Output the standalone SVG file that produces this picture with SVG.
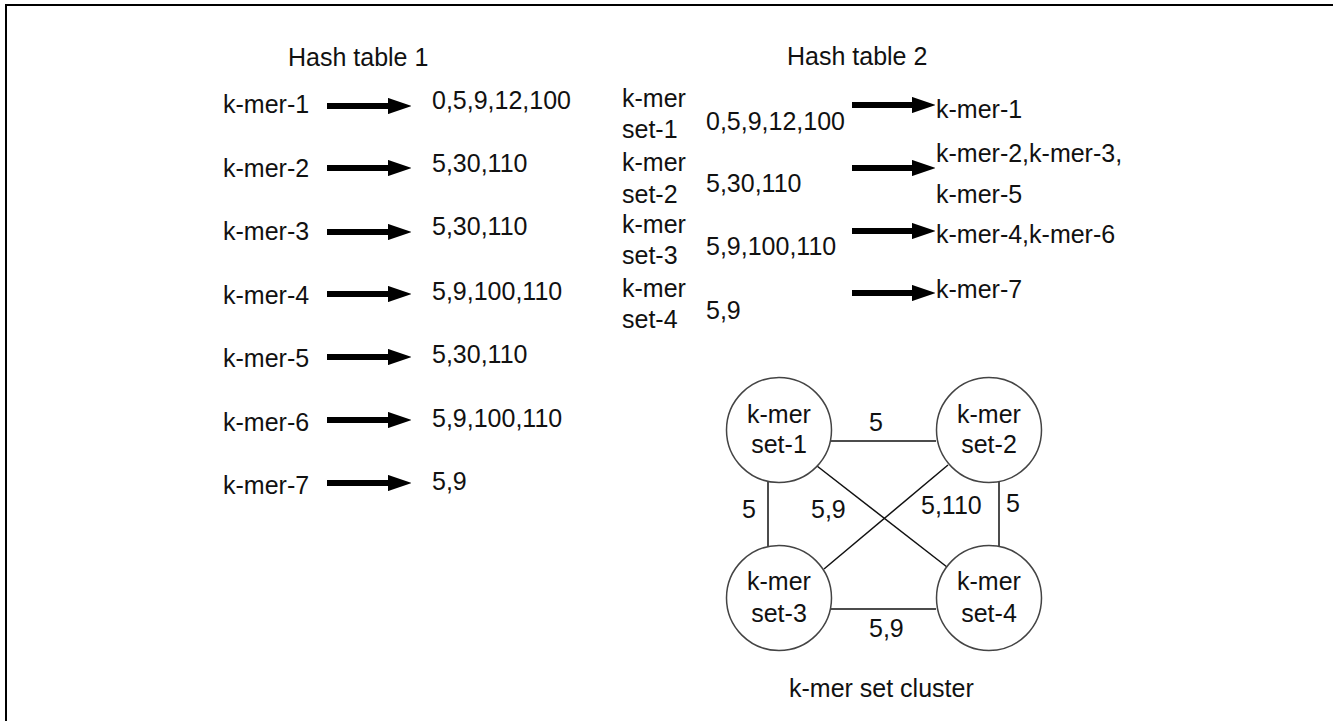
<svg xmlns="http://www.w3.org/2000/svg" width="1333" height="721" viewBox="0 0 1333 721">
<defs>
<style>
text{font-family:"Liberation Sans",Arial,sans-serif;font-size:25px;fill:#111}
.c{text-anchor:middle}
.arr{stroke:#000;stroke-width:6;fill:none}
.edge{stroke:#111;stroke-width:1.5;fill:none}
.node{fill:#fff;stroke:#444;stroke-width:1.5}
</style>
<marker id="ah" viewBox="0 0 10 10" refX="0" refY="5" markerWidth="3.9" markerHeight="2.7" markerUnits="strokeWidth" orient="auto" preserveAspectRatio="none">
<path d="M0,0 L10,5 L0,10 Z" fill="#000"/>
</marker>
</defs>
<rect width="1333" height="721" fill="#fff"/>
<path d="M6,721 V5 H1333" fill="none" stroke="#000" stroke-width="2"/>

<g id="table1">
<text x="288" y="66">Hash table 1</text>
<text x="223" y="113">k-mer-1</text>
<text x="223" y="177">k-mer-2</text>
<text x="223" y="240">k-mer-3</text>
<text x="223" y="304">k-mer-4</text>
<text x="223" y="367">k-mer-5</text>
<text x="223" y="431">k-mer-6</text>
<text x="223" y="494">k-mer-7</text>
<text x="432" y="109">0,5,9,12,100</text>
<text x="432" y="172">5,30,110</text>
<text x="432" y="235">5,30,110</text>
<text x="432" y="300">5,9,100,110</text>
<text x="432" y="363">5,30,110</text>
<text x="432" y="427">5,9,100,110</text>
<text x="432" y="490">5,9</text>
</g>

<g id="table2">
<text x="787" y="65">Hash table 2</text>
<text x="622" y="107">k-mer</text><text x="622" y="138">set-1</text>
<text x="622" y="171">k-mer</text><text x="622" y="203">set-2</text>
<text x="622" y="233">k-mer</text><text x="622" y="264">set-3</text>
<text x="622" y="297">k-mer</text><text x="622" y="328">set-4</text>
<text x="706" y="130">0,5,9,12,100</text>
<text x="706" y="192">5,30,110</text>
<text x="706" y="255">5,9,100,110</text>
<text x="706" y="319">5,9</text>
<text x="936" y="118">k-mer-1</text>
<text x="936" y="162">k-mer-2,k-mer-3,</text>
<text x="936" y="203">k-mer-5</text>
<text x="936" y="243">k-mer-4,k-mer-6</text>
<text x="936" y="298">k-mer-7</text>
</g>

<g id="connectors">
<line class="arr" x1="327" y1="106" x2="388" y2="106" marker-end="url(#ah)"/>
<line class="arr" x1="327" y1="168" x2="388" y2="168" marker-end="url(#ah)"/>
<line class="arr" x1="327" y1="232" x2="388" y2="232" marker-end="url(#ah)"/>
<line class="arr" x1="327" y1="294" x2="388" y2="294" marker-end="url(#ah)"/>
<line class="arr" x1="327" y1="357" x2="388" y2="357" marker-end="url(#ah)"/>
<line class="arr" x1="327" y1="420" x2="388" y2="420" marker-end="url(#ah)"/>
<line class="arr" x1="327" y1="483" x2="388" y2="483" marker-end="url(#ah)"/>
<line class="arr" x1="852" y1="105" x2="912" y2="105" marker-end="url(#ah)"/>
<line class="arr" x1="852" y1="168" x2="912" y2="168" marker-end="url(#ah)"/>
<line class="arr" x1="852" y1="231" x2="912" y2="231" marker-end="url(#ah)"/>
<line class="arr" x1="852" y1="293" x2="912" y2="293" marker-end="url(#ah)"/>
<line class="edge" x1="831" y1="441" x2="936" y2="441"/>
<line class="edge" x1="768" y1="482" x2="768" y2="547"/>
<line class="edge" x1="999" y1="482" x2="999" y2="547"/>
<line class="edge" x1="831" y1="609" x2="936" y2="609"/>
<line class="edge" x1="817" y1="466" x2="947" y2="567"/>
<line class="edge" x1="948" y1="465" x2="824" y2="569"/>
</g>

<g id="edge-labels">
<text x="869" y="431">5</text>
<text x="742" y="518">5</text>
<text x="811" y="518">5,9</text>
<text x="921" y="514">5,110</text>
<text x="1006" y="512">5</text>
<text x="869" y="637">5,9</text>
</g>

<g id="set1"><circle class="node" cx="779" cy="430" r="52.5"/><text class="c" x="779" y="423">k-mer</text><text class="c" x="779" y="453">set-1</text></g>
<g id="set2"><circle class="node" cx="989" cy="430" r="52.5"/><text class="c" x="989" y="423">k-mer</text><text class="c" x="989" y="453">set-2</text></g>
<g id="set3"><circle class="node" cx="779" cy="598" r="52.5"/><text class="c" x="779" y="590">k-mer</text><text class="c" x="779" y="622">set-3</text></g>
<g id="set4"><circle class="node" cx="989" cy="598" r="52.5"/><text class="c" x="989" y="590">k-mer</text><text class="c" x="989" y="622">set-4</text></g>

<text x="789" y="697">k-mer set cluster</text>
</svg>
